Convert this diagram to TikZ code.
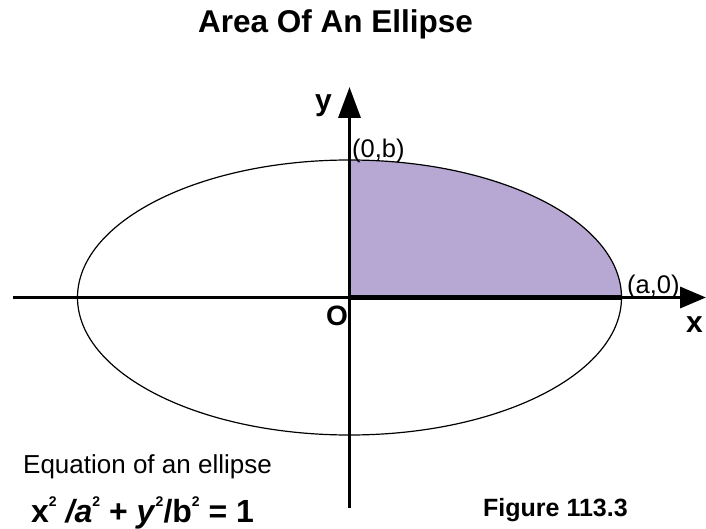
\documentclass[tikz,border=0pt]{standalone}
\usepackage{fontspec}
\setmainfont{Liberation Sans}
\usetikzlibrary{arrows.meta}
\definecolor{lav}{RGB}{183,167,211}
\newcommand{\sq}{\raisebox{0.48em}{\fontsize{14}{14}\selectfont 2}}
\begin{document}
\begin{tikzpicture}[x=1pt,y=-1pt,
  lbl/.style={inner sep=0pt, anchor=base west},
  axisline/.style={line width=3.5pt},
  curve/.style={line width=1.2pt}]
\useasboundingbox (0,0) rectangle (706,529);
\coordinate (O) at (349.5,297.5);
\coordinate (xl) at (13,297.5);
\coordinate (xr) at (706,297.5);
\coordinate (yb) at (349.5,508);
\coordinate (yt) at (349.5,87);
\coordinate (A) at (622,297.5);
\begin{scope}
  \clip (O) rectangle (630,150);
  \fill[lav] (O) ellipse [x radius=272pt, y radius=137.5pt];
\end{scope}
\draw[curve] (O) ellipse [x radius=272pt, y radius=137.5pt];
\draw[axisline, -{Triangle[length=26pt,width=21pt]}] (xl) -- (xr);
\draw[line width=4.5pt] (O) -- (A);
\draw[axisline, -{Triangle[length=31pt,width=22pt]}] (yb) -- (yt);
\node[lbl, font=\fontsize{25.5}{25.5}\selectfont] (lb) at (352,158) {(0,b)};
\node[lbl, font=\fontsize{25.5}{25.5}\selectfont] (la) at (627,293) {(a,0)};
\node[lbl, font=\fontsize{30}{30}\selectfont\bfseries] (ly) at (315,111) {y};
\node[lbl, font=\fontsize{30}{30}\selectfont\bfseries] (lx) at (686,332) {x};
\node[lbl, font=\fontsize{28}{28}\selectfont\bfseries] (lo) at (326,325) {O};
\node[inner sep=0pt, anchor=base, font=\fontsize{31.5}{31.5}\selectfont\bfseries] (title) at (335.5,33) {Area Of An Ellipse};
\node[lbl, font=\fontsize{26}{26}\selectfont] (eqt) at (23,473.3) {Equation of an ellipse};
\node[lbl, font=\fontsize{32}{32}\selectfont\bfseries] (eq) at (31,522) {x\sq{} \textit{/a}\sq{} + \textit{y}\sq{}/b\sq{} = 1};
\node[lbl, font=\fontsize{25}{25}\selectfont\bfseries] (fig) at (483,516.7) {Figure 113.3};
\end{tikzpicture}
\end{document}
